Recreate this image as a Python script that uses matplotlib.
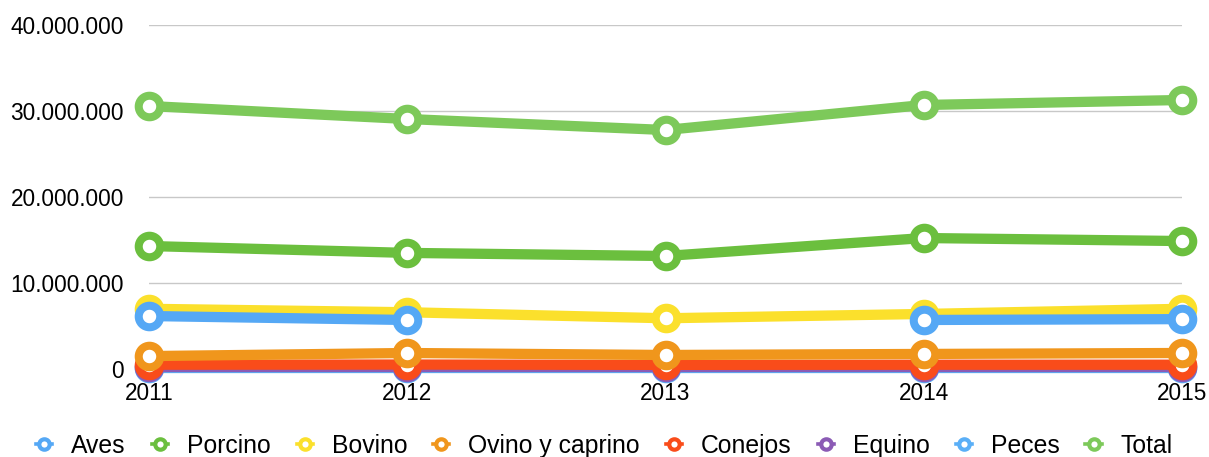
import numpy as np
import matplotlib
matplotlib.use("Agg")
import matplotlib.pyplot as plt
from matplotlib.ticker import FuncFormatter
from matplotlib.lines import Line2D

years = [2011, 2012, 2013, 2014, 2015]
series_names = ["Aves", "Porcino", "Bovino", "Ovino y caprino", "Conejos", "Equino", "Peces", "Total"]
aves = [6160000, 5700000, np.nan, 5700000, 5800000]
porcino = [14300000, 13500000, 13140000, 15230000, 14880000]
bovino = [7000000, 6600000, 5900000, 6400000, 7000000]
ovino = [1500000, 1860000, 1630000, 1750000, 1860000]
conejos = [500000, 520000, 480000, 500000, 500000]
equino = [250000, 250000, 250000, 250000, 250000]
peces = [100000, 100000, 100000, 100000, 100000]
total = [30580000, 29070000, 27790000, 30700000, 31280000]
colors = ["#55A8F5", "#6BBF3E", "#FBE02C", "#F0961C", "#F94C1A", "#8B5BB5", "#5AAFF7", "#7DC95A"]
yticks = [0, 10000000, 20000000, 30000000, 40000000]

plt.rcParams['font.family'] = ['Liberation Sans', 'DejaVu Sans']

W, H = 1209, 457
fig = plt.figure(figsize=(W / 100, H / 100), dpi=100)
ax = fig.add_axes([149 / W, (H - 369) / H, (1182 - 149) / W, (369 - 25) / H])

data = [aves, porcino, bovino, ovino, conejos, equino, peces, total]
n = len(data)
for i, (name, vals, c) in enumerate(zip(series_names, data, colors)):
    ax.plot(years, vals, color=c, lw=7.4, marker='o', ms=15.5, mfc='white', mec=c, mew=5.8,
            zorder=10 + (n - i) if name != "Total" else 30, clip_on=False, solid_capstyle='butt')

ax.set_xlim(2011, 2015)
ax.set_ylim(0, 40000000)
ax.set_yticks(yticks)
ax.set_xticks(years)
ax.yaxis.set_major_formatter(FuncFormatter(lambda v, p: f"{int(v):,}".replace(",", ".")))
ax.grid(axis='y', color='#C8C8C8', lw=1)
ax.set_axisbelow(True)
ax.xaxis.set_zorder(50)
for s in ax.spines.values():
    s.set_visible(False)
ax.tick_params(axis='both', length=0, labelsize=16.3, colors='black')
ax.tick_params(axis='y', pad=18)
ax.tick_params(axis='x', pad=9)

handles = [Line2D([0], [0], color=c, lw=2.6, marker='o', ms=7.5, mfc='white', mec=c, mew=3.0)
           for c in colors]
fig.legend(handles, series_names, loc='center', bbox_to_anchor=(0.5, (H - 446) / H), ncol=8,
           frameon=False, fontsize=17.8, handlelength=0.65, handletextpad=0.77, columnspacing=1.05,
           borderaxespad=0, borderpad=0)

fig.savefig("out.png", dpi=100)
